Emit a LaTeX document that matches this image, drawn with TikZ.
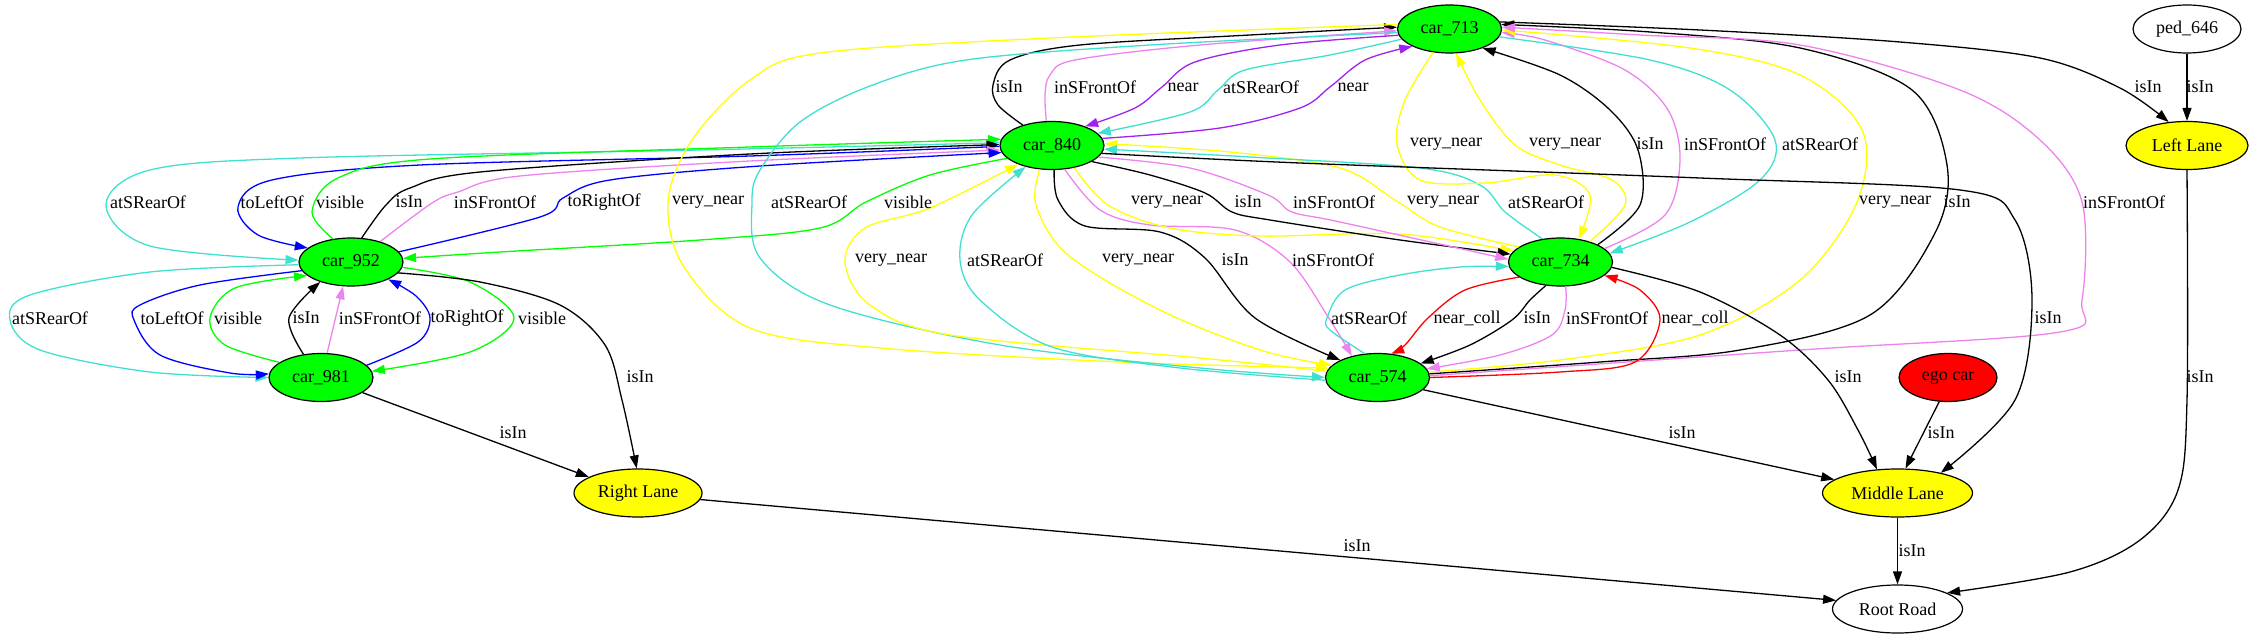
\documentclass[tikz,border=0pt]{standalone}
\usepackage{fontspec}
\setmainfont{Liberation Serif}
\usetikzlibrary{shapes.geometric,arrows.meta}
\definecolor{gvgreen}{RGB}{0,255,0}
\definecolor{gvyellow}{RGB}{255,255,0}
\definecolor{gvred}{RGB}{255,0,0}
\definecolor{gvturq}{RGB}{64,224,208}
\definecolor{gvviolet}{RGB}{238,130,238}
\definecolor{gvpurple}{RGB}{160,32,240}
\definecolor{gvblue}{RGB}{0,0,255}
\begin{document}
\begin{tikzpicture}[x=1pt,y=-1pt,
  every node/.style={font=\fontsize{18}{20}\selectfont},
  gv/.style={ellipse, draw, line width=1.2pt, inner sep=0pt, minimum height=48pt},
  car/.style={gv, fill=gvgreen, minimum width=104pt},
  lane/.style={gv, fill=gvyellow},
  lbl/.style={inner sep=0pt},
  ed/.style={draw=#1, line width=1.3pt, -{Triangle[length=13pt,width=9pt]}},
  pl/.style={smooth, tension=0.55}]
\useasboundingbox (0,0) rectangle (2254,639);
% nodes
\node[car] (car713) at (1449.5,29) {car\_713};
\node[gv, minimum width=108pt] (ped646) at (2187,29) {ped\_646};
\node[car] (car840) at (1052,145.5) {car\_840};
\node[lane, minimum width=122pt] (leftlane) at (2187,145.5) {Left Lane};
\node[car] (car952) at (351,262) {car\_952};
\node[car] (car734) at (1560.5,262) {car\_734};
\node[car] (car981) at (321,377.5) {car\_981};
\node[car] (car574) at (1377.5,377.5) {car\_574};
\node[gv, fill=gvred, minimum width=98pt] (ego) at (1948,377.5) {ego car};
\node[lane, minimum width=128pt] (rightlane) at (638,493) {Right Lane};
\node[lane, minimum width=150pt] (middlelane) at (1897.5,493) {Middle Lane};
\node[gv, minimum width=130pt] (rootroad) at (1897.5,609) {Root Road};

% car_952 <-> car_981
\draw[ed=gvturq] plot[pl] coordinates {(car952.183) (150,272) (30,295) (10,320) (40,350) (150,372) (car981.180)};
\draw[ed=gvblue] plot[pl] coordinates {(car952.190) (200,285) (140,305) (134,320) (160,355) (230,373) (car981.176)};
\draw[ed=gvgreen] plot[pl] coordinates {(car981.160) (225,345) (210,318) (235,288) (car952.197)};
\draw[ed=black] plot[pl] coordinates {(car981.127) (289,318) (car952.213)};
\draw[ed=gvviolet] (car981.76) -- (car952.252);
\draw[ed=gvblue] plot[pl] coordinates {(car981.15) (418,342) (430,318) (416,296) (car952.335)};
\draw[ed=gvgreen] plot[pl] coordinates {(car952.354) (470,282) (514,318) (470,352) (car981.7)};
% car_840 <-> car_952
\draw[ed=gvturq] plot[pl] coordinates {(car840.177) (700,150) (300,158) (150,170) (106,205) (150,246) (car952.178)};
\draw[ed=gvblue] plot[pl] coordinates {(car840.181) (750,156) (420,165) (272,180) (238,207) (258,235) (car952.162)};
\draw[ed=gvgreen] plot[pl] coordinates {(car952.128) (312,212) (338,178) (430,159) (750,147) (car840.173)};
\draw[ed=black] plot[pl] coordinates {(car952.66) (386,205) (410,188) (480,172) (750,154) (car840.179)};
\draw[ed=gvviolet] plot[pl] coordinates {(car952.35) (432,203) (458,192) (520,176) (750,161) (car840.185)};
\draw[ed=gvblue] plot[pl] coordinates {(car952.12) (540,217) (563,198) (610,180) (760,166) (car840.188)};
\draw[ed=gvgreen] plot[pl] coordinates {(car840.196) (930,175) (866,202) (820,228) (700,240) (500,252) (car952.4)};
% car_840 <-> car_713
\draw[ed=black] plot[pl] coordinates {(car840.145) (998,105) (993,85) (1010,60) (1080,45) (1250,35) (car713.178)};
\draw[ed=gvviolet] plot[pl] coordinates {(car840.103) (1045,95) (1050,75) (1075,60) (1200,45) (car713.182)};
\draw[ed=gvpurple] plot[pl] coordinates {(car713.187) (1280,45) (1195,62) (1162,87) (1135,108) (car840.30)};
\draw[ed=gvturq] plot[pl] coordinates {(car713.192) (1330,55) (1245,70) (1218,90) (1190,112) (car840.15)};
\draw[ed=gvpurple] plot[pl] coordinates {(car840.8) (1220,128) (1300,108) (1330,87) (1365,60) (car713.205)};
% car_713 -> car_574 (left loops)
\draw[ed=gvyellow] plot[pl] coordinates {(car713.175) (1050,38) (820,53) (750,80) (692,140) (668,202) (684,267) (750,328) (880,348) (1120,362) (car574.169)};
\draw[ed=gvturq] plot[pl] coordinates {(car713.184) (1150,45) (966,60) (870,86) (800,122) (760,170) (752,202) (760,258) (830,305) (1000,345) (1200,368) (car574.180)};
% car_840 <-> car_574
\draw[ed=gvyellow] plot[pl] coordinates {(car574.173) (1200,358) (950,335) (870,305) (845,262) (865,228) (930,208) (car840.209)};
\draw[ed=gvturq] plot[pl] coordinates {(car574.183) (1180,368) (1052,347) (980,300) (960,260) (972,215) (car840.219)};
\draw[ed=gvyellow] plot[pl] coordinates {(car840.243) (1036,205) (1068,255) (1160,310) (1260,350) (car574.165)};
\draw[ed=black] plot[pl] coordinates {(car840.275) (1058,200) (1085,226) (1160,232) (1205,258) (1255,318) (car574.155)};
\draw[ed=gvviolet] plot[pl] coordinates {(car840.298) (1100,210) (1150,225) (1235,230) (1290,262) (1330,320) (car574.140)};
% car_840 <-> car_734
\draw[ed=gvyellow] plot[pl] coordinates {(car840.315) (1108,205) (1170,228) (1260,236) (1400,234) (car734.167)};
\draw[ed=black] plot[pl] coordinates {(car840.338) (1150,175) (1205,193) (1232,212) (1270,220) (1400,240) (car734.171)};
\draw[ed=gvviolet] plot[pl] coordinates {(car840.346) (1190,168) (1268,195) (1292,212) (1340,222) (car734.177)};
\draw[ed=gvyellow] plot[pl] coordinates {(car734.160) (1440,227) (1395,200) (1340,168) (1230,152) (car840.2)};
\draw[ed=gvturq] plot[pl] coordinates {(car734.128) (1505,212) (1480,185) (1420,168) (1250,157) (car840.356)};
% car_713 <-> car_734
\draw[ed=gvyellow] plot[pl] coordinates {(car713.235) (1405,100) (1397,144) (1420,180) (1485,183) (1555,175) (1590,195) (car734.52)};
\draw[ed=gvyellow] plot[pl] coordinates {(car734.35) (1625,205) (1612,180) (1560,165) (1515,145) (1480,100) (car713.285)};
\draw[ed=black] plot[pl] coordinates {(car734.25) (1640,205) (1638,150) (1610,110) (1560,75) (car713.330)};
\draw[ed=gvviolet] plot[pl] coordinates {(car734.17) (1665,215) (1680,160) (1668,110) (1625,70) (1545,40) (car713.356)};
\draw[ed=gvturq] plot[pl] coordinates {(car713.351) (1650,60) (1730,90) (1775,140) (1760,180) (1690,222) (car734.10)};
% car_574 -> car_713 (right)
\draw[ed=gvyellow] plot[pl] coordinates {(car574.6) (1560,360) (1700,335) (1800,280) (1857,202) (1862,130) (1800,75) (1690,48) (car713.359)};
\draw[ed=black] plot[pl] coordinates {(car574.4) (1600,362) (1740,350) (1870,315) (1935,233) (1947,165) (1912,90) (1800,48) (1650,32) (car713.5)};
\draw[ed=gvviolet] plot[pl] coordinates {(car574.2) (1800,350) (2060,332) (2082,300) (2082,202) (2040,140) (1960,90) (1800,45) (1640,35) (car713.2)};
% lanes
\draw[ed=black] plot[pl] coordinates {(car713.8) (1700,30) (1900,42) (2040,58) (2120,88) (leftlane.128)};
\draw[ed=black] (ped646) -- (leftlane);
% car_574 <-> car_734
\draw[ed=gvturq] plot[pl] coordinates {(car574.118) (1330,330) (1327,318) (1345,290) (1400,275) (1460,267) (car734.185)};
\draw[ed=gvred] plot[pl] coordinates {(car734.200) (1465,290) (1428,318) (1405,345) (car574.60)};
\draw[ed=black] plot[pl] coordinates {(car734.238) (1530,300) (1512,320) (1470,345) (car574.18)};
\draw[ed=gvviolet] plot[pl] coordinates {(car734.282) (1565,310) (1552,335) (1500,355) (car574.10)};
\draw[ed=gvred] plot[pl] coordinates {(car574.0) (1560,372) (1635,362) (1660,320) (1640,290) (car734.343)};
% to middle lane
\draw[ed=black] plot[pl] coordinates {(car734.354) (1700,292) (1780,335) (1828,380) (1858,430) (middlelane.131)};
\draw[ed=black] plot[pl] coordinates {(car840.351) (1300,163) (1700,178) (1960,190) (2015,220) (2032,300) (2015,400) (middlelane.25)};
\draw[ed=black] (ego.250) -- (middlelane.72);
\draw[ed=black] (car574.345) -- (middlelane.168);
% right lane
\draw[ed=black] plot[pl] coordinates {(car952.347) (480,282) (560,305) (605,345) (622,400) (rightlane.93)};
\draw[ed=black] (car981.340) -- (rightlane.162);
% root road
\draw[ed=black] (rightlane.354) -- (rootroad.172);
\draw[ed=black] (middlelane) -- (rootroad);
\draw[ed=black] plot[pl] coordinates {(leftlane.270) (2187,400) (2178,490) (2140,540) (2070,572) (rootroad.18)};

% labels
\node[lbl] (l1) at (1009,87) {isIn};
\node[lbl] (l2) at (1095,87) {inSFrontOf};
\node[lbl] (l3) at (1183,87) {near};
\node[lbl] (l4) at (1261,87) {atSRearOf};
\node[lbl] (l5) at (1353,87) {near};
\node[lbl] (l6) at (2148,87) {isIn};
\node[lbl] (l7) at (2200,87) {isIn};
\node[lbl] (l8) at (1446,144) {very\_near};
\node[lbl] (l9) at (1565,144) {very\_near};
\node[lbl] (l10) at (1650,144) {isIn};
\node[lbl] (l11) at (1725,144) {inSFrontOf};
\node[lbl] (l12) at (1820,144) {atSRearOf};
\node[lbl] (l13) at (148,202) {atSRearOf};
\node[lbl] (l14) at (272,202) {toLeftOf};
\node[lbl] (l15) at (340,202) {visible};
\node[lbl] (l16) at (409,202) {isIn};
\node[lbl] (l17) at (495,202) {inSFrontOf};
\node[lbl] (l18) at (604,202) {toRightOf};
\node[lbl] (l19) at (708,202) {very\_near};
\node[lbl] (l20) at (809,202) {atSRearOf};
\node[lbl] (l21) at (908,202) {visible};
\node[lbl] (l22) at (1167,202) {very\_near};
\node[lbl] (l23) at (1248,202) {isIn};
\node[lbl] (l24) at (1334,202) {inSFrontOf};
\node[lbl] (l25) at (1443,202) {very\_near};
\node[lbl] (l26) at (1546,202) {atSRearOf};
\node[lbl] (l27) at (1895,202) {very\_near};
\node[lbl] (l28) at (1957,202) {isIn};
\node[lbl] (l29) at (2124,202) {inSFrontOf};
\node[lbl] (l30) at (891,260) {very\_near};
\node[lbl] (l31) at (1005,260) {atSRearOf};
\node[lbl] (l32) at (1138,260) {very\_near};
\node[lbl] (l33) at (1235,260) {isIn};
\node[lbl] (l34) at (1333,260) {inSFrontOf};
\node[lbl] (l35) at (50,318) {atSRearOf};
\node[lbl] (l36) at (172,318) {toLeftOf};
\node[lbl] (l37) at (238,318) {visible};
\node[lbl] (l38) at (306,318) {isIn};
\node[lbl] (l39) at (380,318) {inSFrontOf};
\node[lbl] (l40) at (467,318) {toRightOf};
\node[lbl] (l41) at (542,318) {visible};
\node[lbl] (l42) at (1369,318) {atSRearOf};
\node[lbl] (l43) at (1467,318) {near\_coll};
\node[lbl] (l44) at (1537,318) {isIn};
\node[lbl] (l45) at (1607,318) {inSFrontOf};
\node[lbl] (l46) at (1695,318) {near\_coll};
\node[lbl] (l47) at (2048,318) {isIn};
\node[lbl] (l48) at (640,377) {isIn};
\node[lbl] (l49) at (1848,377) {isIn};
\node[lbl] (l50) at (2200,377) {isIn};
\node[lbl] (l51) at (513,433) {isIn};
\node[lbl] (l52) at (1682,433) {isIn};
\node[lbl] (l53) at (1941,433) {isIn};
\node[lbl] (l54) at (1357,546) {isIn};
\node[lbl] (l55) at (1912,551) {isIn};
\end{tikzpicture}
\end{document}
